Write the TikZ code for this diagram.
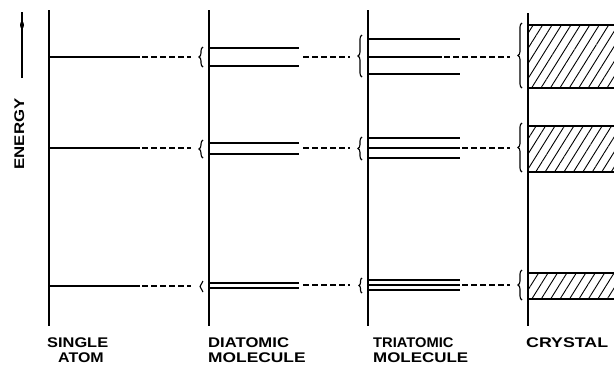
\documentclass[tikz,border=0pt]{standalone}
\usepackage{fontspec}
\setmainfont{Liberation Sans}
\usetikzlibrary{decorations.pathreplacing,patterns.meta}
\begin{document}
\begin{tikzpicture}[x=1pt,y=-1pt,
  axis/.style={line width=1.8pt},
  lev/.style={line width=2.1pt},
  thinlev/.style={line width=1.1pt},
  dsh/.style={line width=1.7pt,dash pattern=on 6pt off 3pt},
  br/.style={line width=1.1pt,decorate,decoration={brace,amplitude=4pt}},
  lab/.style={inner sep=0pt,anchor=base west,font=\fontsize{14}{14}\selectfont\bfseries},
  hatch/.style={pattern={Lines[angle=58,distance=8pt,line width=0.9pt]}}]
\useasboundingbox (0,0) rectangle (614,365);
% energy arrow and label
\draw[line width=1.5pt] (22,78) -- (22,12);
\fill (22,25) ellipse (2pt and 3.5pt);
\node[rotate=90,anchor=base,inner sep=0pt,font=\fontsize{14}{14}\selectfont\bfseries] (energy) at (24,134) {\scalebox{1.2}[1]{ENERGY}};
% axes
\draw[line width=2.5pt] (49,10) -- (49,326);
\draw[axis] (209,10) -- (209,326);
\draw[axis] (368,10) -- (368,326);
\draw[axis] (528,13) -- (528,326);
% single atom levels
\foreach \y in {57,148,286}{
  \draw[lev] (50,\y) -- (140,\y);
  \draw[dsh] (142,\y) -- (191,\y);
}
% diatomic levels
\foreach \y in {48,66,143,154,283,288}{
  \draw[lev] (210,\y) -- (299,\y);
}
\foreach \y in {57,148,285}{
  \draw[dsh] (303,\y) -- (350,\y);
}
% triatomic levels
\foreach \y in {39,74,138,148,158,280,285,290}{
  \draw[lev] (369,\y) -- (460,\y);
}
\draw[thinlev] (369,57) -- (442,57);
\draw[dsh] (444,57) -- (510,57);
\draw[dsh] (462,148) -- (510,148);
\draw[dsh] (462,285) -- (510,285);
% braces
\draw[br] (203,67) -- (203,47);
\draw[br] (203,158) -- (203,140);
\draw[br,decoration={amplitude=3pt}] (203,292) -- (203,281);
\draw[br] (362,77) -- (362,35);
\draw[br] (362,160) -- (362,137);
\draw[br,decoration={amplitude=3pt}] (362,293) -- (362,278);
\draw[br] (522,88) -- (522,23);
\draw[br] (522,172) -- (522,123);
\draw[br] (522,300) -- (522,270);
% crystal bands
\foreach \a/\b in {25/88,126/172,273/299}{
  \fill[hatch] (528,\a) rectangle (620,\b);
  \draw[lev] (528,\a) -- (620,\a);
  \draw[lev] (528,\b) -- (620,\b);
}
% labels
\node[lab] (l1a) at (47,347) {\scalebox{1.17}[1]{SINGLE}};
\node[lab] (l1b) at (58,362) {\scalebox{1.14}[1]{ATOM}};
\node[lab] (l2a) at (208,347) {\scalebox{1.19}[1]{DIATOMIC}};
\node[lab] (l2b) at (208,362) {\scalebox{1.24}[1]{MOLECULE}};
\node[lab] (l3a) at (373,347) {\scalebox{1.05}[1]{TRIATOMIC}};
\node[lab] (l3b) at (373,362) {\scalebox{1.21}[1]{MOLECULE}};
\node[lab] (l4a) at (526,347) {\scalebox{1.27}[1]{CRYSTAL}};
\end{tikzpicture}
\end{document}
